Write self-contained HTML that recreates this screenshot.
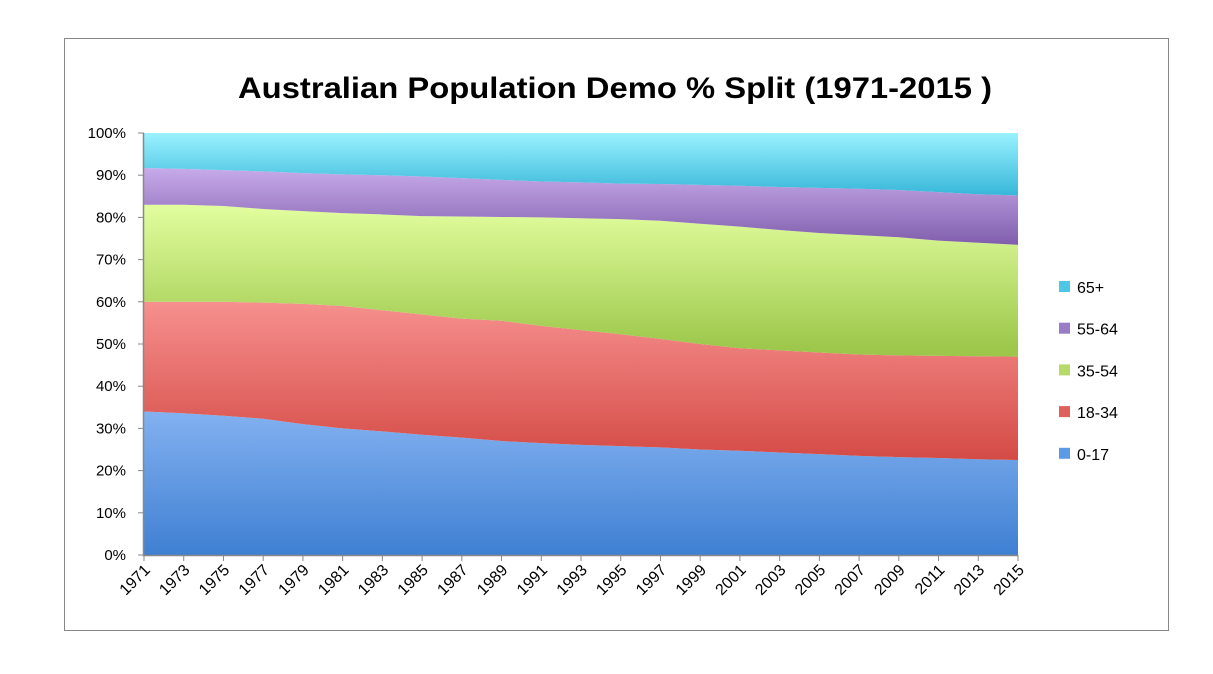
<!DOCTYPE html>
<html><head><meta charset="utf-8"><style>
body{margin:0;background:#fff;width:1213px;height:669px;overflow:hidden;font-family:"Liberation Sans",sans-serif}
</style></head><body>
<svg id="c" width="1213" height="669">
<defs>
<linearGradient id="g0" gradientUnits="userSpaceOnUse" x1="0" y1="133" x2="0" y2="555"><stop offset="0.5" stop-color="#a3c8ff"/><stop offset="1" stop-color="#3f80d2"/></linearGradient>
<linearGradient id="g1" gradientUnits="userSpaceOnUse" x1="0" y1="260" x2="0" y2="480"><stop offset="0" stop-color="#ffa2a2"/><stop offset="1" stop-color="#d0423c"/></linearGradient>
<linearGradient id="g2" gradientUnits="userSpaceOnUse" x1="0" y1="210" x2="0" y2="350"><stop offset="0" stop-color="#e0fc9c"/><stop offset="1" stop-color="#9cc74a"/></linearGradient>
<linearGradient id="g3" gradientUnits="userSpaceOnUse" x1="0" y1="165" x2="0" y2="250"><stop offset="0" stop-color="#caaeec"/><stop offset="1" stop-color="#7b59a8"/></linearGradient>
<linearGradient id="g4" gradientUnits="userSpaceOnUse" x1="0" y1="133" x2="0" y2="200"><stop offset="0" stop-color="#9af2ff"/><stop offset="1" stop-color="#30b2d6"/></linearGradient>
</defs>
<rect x="64.5" y="38.5" width="1104" height="592" fill="#fff" stroke="#888"/>
<text x="238" y="98" textLength="754" lengthAdjust="spacingAndGlyphs" font-size="30" font-weight="bold" fill="#000">Australian Population Demo % Split (1971-2015 )</text>
<g id="areas"></g><g id="axes"></g><g id="legend"></g>
</svg>
<script>
const years=[1971,1973,1975,1977,1979,1981,1983,1985,1987,1989,1991,1993,1995,1997,1999,2001,2003,2005,2007,2009,2011,2013,2015];
const seriesNames=["0-17","18-34","35-54","55-64","65+"];
const s0=[34,33.6,33,32.3,31,30,29.3,28.5,27.8,27,26.5,26.1,25.8,25.5,25,24.7,24.3,23.9,23.5,23.2,23,22.7,22.5];
const s1=[26,26.4,27,27.5,28.5,29,28.7,28.5,28.2,28.5,27.8,27.2,26.5,25.7,25,24.3,24.2,24.1,24,24.1,24.2,24.4,24.5];
const s2=[23,23,22.7,22.2,22,22,22.7,23.3,24.2,24.6,25.7,26.5,27.3,28,28.5,28.8,28.5,28.3,28.3,28,27.3,26.9,26.5];
const s3=[8.7,8.5,8.5,8.9,9,9.2,9.3,9.4,9.1,8.8,8.5,8.5,8.4,8.7,9.2,9.7,10.2,10.7,11,11.2,11.5,11.5,11.7];
const s4=[8.3,8.5,8.8,9.1,9.5,9.8,10,10.3,10.7,11.1,11.5,11.7,12,12.1,12.3,12.5,12.8,13,13.2,13.5,14,14.5,14.8];
const yTicks=[0,10,20,30,40,50,60,70,80,90,100];
const NS="http://www.w3.org/2000/svg";
const X0=144,X1=1018,Y0=555,Y1=133;
const series=[s0,s1,s2,s3,s4];
function xs(i){return X0+(X1-X0)*i/(years.length-1);}
function ys(v){return Y0-(Y0-Y1)*v/100;}
function mk(t,p){const e=document.createElementNS(NS,t);for(const k in p)e.setAttribute(k,p[k]);return e;}
const areas=document.getElementById('areas'),axes=document.getElementById('axes'),legend=document.getElementById('legend');
let base=years.map(()=>0);
series.forEach((s,k)=>{
  const tops=years.map((_,i)=>{const tot=series.reduce((a,ss)=>a+ss[i],0);return base[i]+s[i]*100/tot;});
  let d="M"+years.map((_,i)=>xs(i)+","+ys(tops[i])).join("L");
  for(let i=years.length-1;i>=0;i--)d+="L"+xs(i)+","+ys(base[i]);
  const p=mk('path',{d:d+"Z",fill:"url(#g"+k+")"});
  
  
  areas.appendChild(p);
  base=tops;
});
const ax=mk('path',{d:`M${X0-0.5},${Y1}V${Y0+0.5}H${X1}`,stroke:"#888",fill:"none","stroke-width":1.5});


axes.appendChild(ax);
yTicks.forEach(v=>{
  const y=ys(v);
  const tk=mk('line',{x1:X0-6,x2:X0,y1:y,y2:y,stroke:"#888"});
  
  
  axes.appendChild(tk);
  const t=mk('text',{x:126,y:y+5,"text-anchor":"end","font-size":15,fill:"#000"});
  t.textContent=v+"%";
  
  
  axes.appendChild(t);
});
years.forEach((yr,i)=>{
  const x=xs(i);
  const tk=mk('line',{x1:x,x2:x,y1:Y0,y2:Y0+6,stroke:"#888"});
  
  
  axes.appendChild(tk);
  const t=mk('text',{x:x+7,y:Y0+16,"text-anchor":"end","font-size":16,fill:"#000",transform:`rotate(-45 ${x+7} ${Y0+16})`});
  t.textContent=yr;
  
  
  axes.appendChild(t);
});
[4,3,2,1,0].forEach((k,j)=>{
  const y=287+j*41.7;
  const r=mk('rect',{x:1059,y:y-6,width:11,height:11});
  r.setAttribute('fill',["#5d9ae6","#e0615c","#b5da6a","#9a7bc6","#4ec6e6"][k]);
  
  
  legend.appendChild(r);
  const t=mk('text',{x:1077,y:y+6,"font-size":16,fill:"#000"});
  t.textContent=seriesNames[k];
  
  
  legend.appendChild(t);
});
</script>
</body></html>
